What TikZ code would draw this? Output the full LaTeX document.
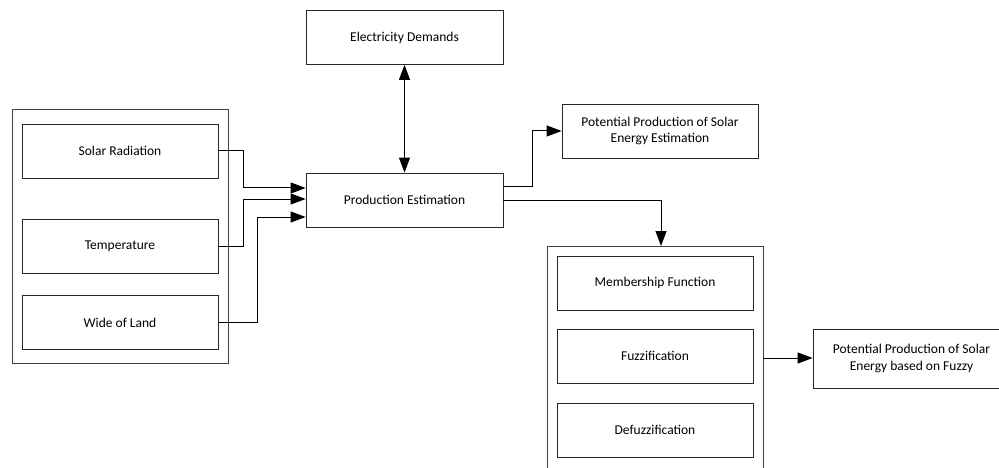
\documentclass[tikz,border=0pt]{standalone}
\usepackage{fontspec}
\setmainfont{Carlito}
\usetikzlibrary{arrows.meta}
\begin{document}
\begin{tikzpicture}[x=1pt,y=-1pt,
  box/.style={draw=black!85, line width=0.8pt, minimum width=196pt, minimum height=54pt, inner sep=2pt, align=center, font=\fontsize{13.5}{16.5}\selectfont},
  grp/.style={draw=black!75, line width=0.9pt, inner sep=0pt},
  conn/.style={draw=black, line width=1pt, -{Triangle[length=15pt,width=11pt]}},
  bconn/.style={draw=black, line width=1pt, {Triangle[length=15pt,width=11pt]}-{Triangle[length=15pt,width=11pt]}}]
\useasboundingbox (0,0) rectangle (999,468);
\clip (0,0) rectangle (999,468);
% left group
\node[grp, minimum width=216pt, minimum height=254pt] (outerL) at (120,236) {};
\node[box] (solar) at (120,151) {Solar Radiation};
\node[box] (temp) at (120,246) {Temperature};
\node[box] (wide) at (120,322.5) {Wide of Land};
% center
\node[box, minimum width=197pt] (elec) at (404.5,37.5) {Electricity Demands};
\node[box, minimum width=197pt] (prod) at (404.5,200) {Production Estimation};
\node[box] (pot1) at (660,131) {Potential Production of Solar\\Energy Estimation};
% right group
\node[grp, minimum width=216pt, minimum height=240pt] (outerR) at (655,366) {};
\node[box] (memb) at (655,283) {Membership Function};
\node[box] (fuzz) at (655,356) {Fuzzification};
\node[box] (defuzz) at (655,430) {Defuzzification};
\node[box, minimum width=197pt, minimum height=59pt] (pot2) at (911.5,358.5) {Potential Production of Solar\\Energy based on Fuzzy};
\coordinate (rtop) at (661,246);
% connectors
\draw[conn] (solar.east |- 0,151) -- (243,151) -- (243,188) -- (prod.west |- 0,188);
\draw[conn] (temp.east |- 0,246) -- (243,246) -- (243,199) -- (prod.west |- 0,199);
\draw[conn] (wide.east |- 0,322) -- (257,322) -- (257,217) -- (prod.west |- 0,217);
\draw[bconn] (elec.south) -- (prod.north);
\draw[conn] (prod.east |- 0,187) -- (532,187) -- (532,131) -- (pot1.west);
\draw[conn] (prod.east |- 0,200) -- (661,200) -- (rtop);
\draw[conn] (outerR.east |- 0,358) -- (pot2.west |- 0,358);
\end{tikzpicture}
\end{document}
